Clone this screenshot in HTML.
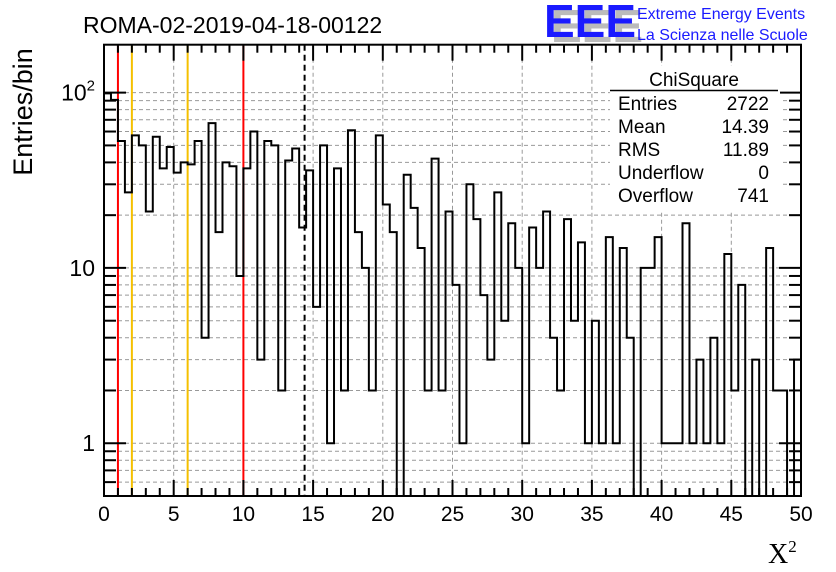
<!DOCTYPE html>
<html><head><meta charset="utf-8"><style>
html,body{margin:0;padding:0;background:#fff;}
svg{display:block;font-family:"Liberation Sans",sans-serif;}
</style></head><body>
<svg id="chart" width="836" height="572" viewBox="0 0 836 572" xmlns="http://www.w3.org/2000/svg">
<rect width="836" height="572" fill="#fff"/>
<g id="grid"></g>
<g id="vlines"></g>
<path id="hist" fill="none" stroke="#000" stroke-width="2"/>
<g id="axes"></g>
<text x="83" y="33" font-size="23">ROMA-02-2019-04-18-00122</text>
<g>
<text x="551" y="42" font-size="46" font-weight="bold" fill="#bbb" transform="scale(1,1)">EEE</text>
<text x="544" y="37" font-size="46" font-weight="bold" fill="#1a1aff">EEE</text>
<text x="637" y="19" font-size="16" fill="#1a1aff">Extreme Energy Events</text>
<text x="637" y="40" font-size="16" fill="#1a1aff">La Scienza nelle Scuole</text>
</g>
<g font-size="19">
<rect x="610" y="66" width="170" height="146" fill="#fff"/>
<text x="694" y="86" text-anchor="middle">ChiSquare</text>
<line x1="610" y1="90.5" x2="778" y2="90.5" stroke="#000" stroke-width="1.5"/>
<text x="618" y="110">Entries</text><text x="769" y="110" text-anchor="end">2722</text>
<text x="618" y="133">Mean</text><text x="769" y="133" text-anchor="end">14.39</text>
<text x="618" y="156">RMS</text><text x="769" y="156" text-anchor="end">11.89</text>
<text x="618" y="179">Underflow</text><text x="769" y="179" text-anchor="end">0</text>
<text x="618" y="202">Overflow</text><text x="769" y="202" text-anchor="end">741</text>
</g>
<text transform="translate(32,112) rotate(-90)" text-anchor="middle" font-size="27">Entries/bin</text>
<text x="768" y="563" font-size="28" font-family="Liberation Serif,serif">X<tspan font-size="17" dy="-11">2</tspan></text>
</svg>
<script>
const counts=[99,91,53,27,57,50,21,56,37,49,35,40,39,53,4,67,16,40,38,9,37,60,3,53,50,2,41,48,17,36,6,50,1,37,2,61,16,10,2,57,23,16,0,34,22,13,2,42,2,21,8,1,30,19,7,3,27,5,18,10,1,17,10,21,4,2,19,5,14,1,5,1,15,1,13,4,0,10,10,15,1,1,1,18,1,3,1,4,1,12,2,8,0,3,0,13,2,2,0,3];
const xTicks=[0,5,10,15,20,25,30,35,40,45,50];
const refLines=[{x:1,c:"#f00"},{x:2,c:"#f5c000"},{x:6,c:"#f5c000"},{x:10,c:"#f00"}];
const meanLine=[14.39];
const yDecades=[1,10,100];
const yLabels=["1","10","10²"];
const L=104,R=801,T=44.7,B=496,xmin=0,xmax=50,binW=0.5;
const lmin=Math.log10(0.5),lmax=2.2735;
const X=v=>L+(v-xmin)/(xmax-xmin)*(R-L);
const Y=v=>B-(Math.log10(v)-lmin)/(lmax-lmin)*(B-T);
const NS="http://www.w3.org/2000/svg";
function mk(tag,attrs,parent){const e=document.createElementNS(NS,tag);for(const k in attrs)e.setAttribute(k,attrs[k]);parent.appendChild(e);return e;}
const grid=document.getElementById('grid');
for(const t of xTicks){if(t===xmin||t===xmax)continue;
 const g=mk('line',{x1:X(t),x2:X(t),y1:T,y2:B,stroke:'#999','stroke-dasharray':'4,3','stroke-width':1},grid);
 }
for(const d of [0.1,1,10,100]){for(let m=1;m<10;m++){const v=d*m;if(v<0.5||v>187)continue;
 const g=mk('line',{x1:L,x2:R,y1:Y(v),y2:Y(v),stroke:'#999','stroke-dasharray':'4,3','stroke-width':1},grid);
 }}
const vl=document.getElementById('vlines');
for(const r of refLines){const l=mk('line',{x1:X(r.x),x2:X(r.x),y1:T,y2:B,stroke:r.c,'stroke-width':2},vl);
 }
for(const m of meanLine){const l=mk('line',{x1:X(m),x2:X(m),y1:T,y2:B,stroke:'#000','stroke-width':2,'stroke-dasharray':'6,4'},vl);
 }
let d="";const yb=v=>v<=0?B:Math.max(T,Math.min(B,Y(v)));
for(let i=0;i<counts.length;i++){const x0=X(i*binW),x1=X((i+1)*binW),y=yb(counts[i]);
 if(i===0)d+=`M${x0},${y}`;else d+=`L${x0},${y}`;d+=`L${x1},${y}`;}
document.getElementById('hist').setAttribute('d',d);
const ax=document.getElementById('axes');
mk('rect',{x:L,y:T,width:R-L,height:B-T,fill:'none',stroke:'#000','stroke-width':2},ax);
for(let t=xmin;t<=xmax;t+=1){const maj=t%5===0,len=maj?16:8;
 mk('line',{x1:X(t),x2:X(t),y1:B,y2:B-len,stroke:'#000','stroke-width':2},ax);
 mk('line',{x1:X(t),x2:X(t),y1:T,y2:T+len,stroke:'#000','stroke-width':2},ax);}
xTicks.forEach(t=>{const tx=mk('text',{x:X(t),y:521,'text-anchor':'middle','font-size':21},ax);tx.textContent=t;
 });
for(const dd of [0.1,1,10,100]){for(let m=1;m<10;m++){const v=dd*m;if(v<0.5||v>187)continue;const len=m===1?22:12;
 mk('line',{x1:L,x2:L+len,y1:Y(v),y2:Y(v),stroke:'#000','stroke-width':2},ax);
 mk('line',{x1:R,x2:R-len,y1:Y(v),y2:Y(v),stroke:'#000','stroke-width':2},ax);}}
yDecades.forEach((v,i)=>{const tx=mk('text',{x:95,y:Y(v)+8,'text-anchor':'end','font-size':23},ax);
 if(yLabels[i]==="10²"){tx.innerHTML='10<tspan font-size="15" dy="-10">2</tspan>';}else tx.textContent=yLabels[i];
 });
</script>
</body></html>
